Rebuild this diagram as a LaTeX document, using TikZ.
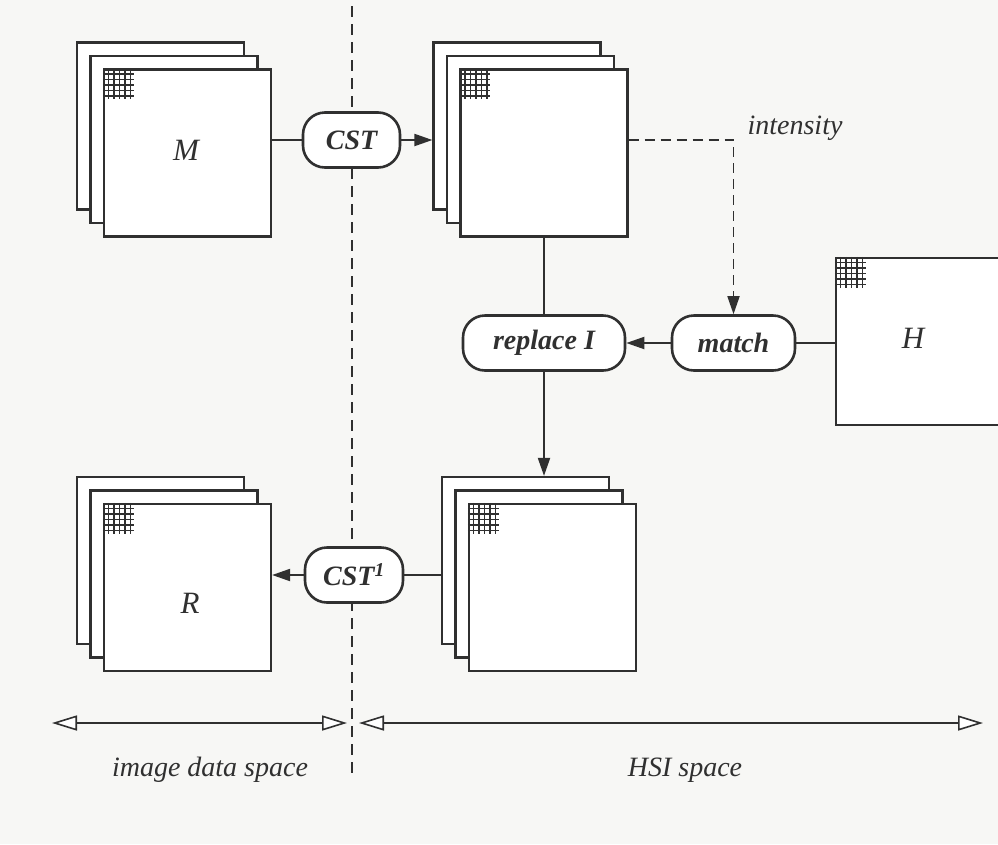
\documentclass[tikz,border=0pt]{standalone}
\usepackage{fontspec}
\setmainfont{Liberation Serif}
\usetikzlibrary{arrows.meta, positioning, calc}
\definecolor{ink}{RGB}{48,48,48}
\definecolor{paper}{RGB}{247,247,245}

% small pixel mesh in the top left corner of a sheet
\newcommand{\cornergrid}[1]{%
  \foreach \k in {5.5,11,16.5,22,27.5} {
    \draw[ink, line width=1.5pt] ($(#1.north west)+(\k,0)$) -- ++(0,31);
    \draw[ink, line width=1.5pt] ($(#1.north west)+(0,\k)$) -- ++(31,0);
  }}

\begin{document}
\begin{tikzpicture}[
  x=1pt, y=-1pt,
  sheet/.style={rectangle, draw=ink, fill=white, line width=2.2pt, minimum width=167pt, minimum height=167pt, inner sep=0pt},
  proc/.style={rectangle, draw=ink, fill=white, line width=2.6pt, rounded corners=22pt, minimum height=55pt, inner sep=0pt, text=ink, font=\fontsize{28}{32}\selectfont\bfseries\itshape},
  lbl/.style={text=ink, font=\fontsize{28}{32}\selectfont\itshape},
  flow/.style={draw=ink, line width=2pt},
  >={Triangle[length=18pt, width=12pt]},
  span/.style={draw=ink, line width=1.6pt, {Triangle[open, length=25pt, width=15pt, fill=white]}-{Triangle[open, length=25pt, width=15pt, fill=white]}}
]
  \fill[paper] (0,0) rectangle (998,844);
  \useasboundingbox (0,0) rectangle (998,844);

  % border between the two spaces
  \coordinate (divtop) at (352,6);
  \coordinate (divbot) at (352,778);
  \draw[ink, line width=2.6pt, dash pattern=on 11pt off 7pt] (divtop) -- (divbot);

  % image stacks
  \foreach \d/\s in {27/b, 13.5/m, 0/f} {
    \node[sheet] (M\s) at (187.5-\d,153-\d) {};
    \node[sheet] (hsi\s) at (544-\d,153-\d) {};
    \node[sheet] (new\s) at (552.5-\d,587.5-\d) {};
    \node[sheet] (R\s) at (187.5-\d,587.5-\d) {};
  }
  \node[sheet] (Hs) at (919.5,341.5) {};
  \cornergrid{Mf}
  \cornergrid{hsif}
  \cornergrid{newf}
  \cornergrid{Rf}
  \cornergrid{Hs}

  \node[lbl, font=\fontsize{31}{34}\selectfont\itshape] (Mlbl) at (186,150) {M};
  \node[lbl, font=\fontsize{31}{34}\selectfont\itshape] (Hlbl) at (913,338) {H};
  \node[lbl, font=\fontsize{31}{34}\selectfont\itshape] (Rlbl) at (190,603) {R};

  % operations
  \node[proc, minimum width=97pt] (cst) at (351.5,140) {CST};
  \node[proc, minimum width=162pt] (rep) at (544,343) {replace I};
  \node[proc, minimum width=123pt] (match) at (733.5,343) {match};
  \node[proc, minimum width=98pt] (cstinv) at (354,575) {CST\textsuperscript{1}};
  \node[lbl] (intlbl) at (795,128) {intensity};

  \draw[flow] (cst) -- (cst -| Mf.east);
  \draw[flow, ->] (cst) -- (cst -| hsib.west);
  \draw[flow, line width=1.7pt, dash pattern=on 10pt off 6pt, ->] (cst -| hsif.east) -| (match.north);
  \draw[flow] (hsif.south) -- (rep.north);
  \draw[flow, ->] (rep) -- (rep |- newb.north);
  \draw[flow, ->] (match) -- (rep);
  \draw[flow] (match) -- (match -| Hs.west);
  \draw[flow] (cstinv) -- (cstinv -| newb.west);
  \draw[flow, ->] (cstinv) -- (cstinv -| Rf.east);

  % extent of each space
  \coordinate (idsl) at (52,723);
  \coordinate (idsr) at (347,723);
  \coordinate (hsil) at (359,723);
  \coordinate (hsir) at (983,723);
  \draw[span] (idsl) -- (idsr);
  \draw[span] (hsil) -- (hsir);
  \node[lbl] (idslbl) at (210,770) {image data space};
  \node[lbl] (hsilbl) at (685,770) {HSI space};
\end{tikzpicture}
\end{document}
